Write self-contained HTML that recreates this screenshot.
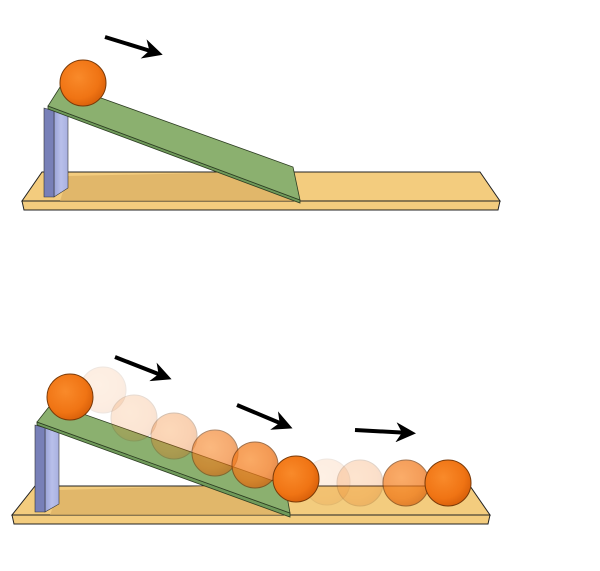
<!DOCTYPE html>
<html><head><meta charset="utf-8"><style>html,body{margin:0;padding:0;background:#fff}svg{display:block}</style></head><body>
<svg width="600" height="571" viewBox="0 0 600 571" xmlns="http://www.w3.org/2000/svg">
<defs>
<radialGradient id="b" cx="0.4" cy="0.38" r="0.65"><stop offset="0" stop-color="#f98a2a"/><stop offset="0.7" stop-color="#f07414"/><stop offset="1" stop-color="#d9600a"/></radialGradient>
<linearGradient id="side" x1="0" x2="1"><stop offset="0" stop-color="#9aa3d8"/><stop offset="0.5" stop-color="#b8bfea"/><stop offset="1" stop-color="#a9b0e0"/></linearGradient>
<marker id="ah" viewBox="0 0 10 10" refX="7" refY="5" markerWidth="5" markerHeight="5" orient="auto"><path d="M0,0 L10,5 L0,10 L3,5 Z" fill="#000"/></marker>
</defs>

<!-- TOP SCENE -->
<polygon points="22,201 500,201 498,210 24,210" fill="#f3cc7e" stroke="#222" stroke-width="1"/>
<polygon points="42,172 480,172 500,201 22,201" fill="#f3cc7e" stroke="#222" stroke-width="1"/>
<polygon points="68,176 250,172 300,201 60,201" fill="#d9ae62" opacity="0.7"/>
<polygon points="54,111 68,116 68,188 54,197" fill="url(#side)" stroke="#333" stroke-width="0.6"/>
<polygon points="44,108 54,111 54,197 44,197" fill="#7880b8" stroke="#333" stroke-width="0.6"/>
<polygon points="48,106 300,200 300,203 48,109" fill="#6f9a5a" stroke="#2d3d22" stroke-width="0.8"/>
<polygon points="62,84 293,167 300,200 48,106" fill="#8bb06f" stroke="#2d3d22" stroke-width="0.8"/>
<circle cx="83" cy="83" r="23" fill="url(#b)" stroke="#7a3a08" stroke-width="1"/>
<line x1="105" y1="37" x2="157" y2="53" stroke="#000" stroke-width="4" marker-end="url(#ah)"/>

<!-- BOTTOM SCENE -->
<polygon points="12,515 490,515 488,524 14,524" fill="#f3cc7e" stroke="#222" stroke-width="1"/>
<polygon points="35,486 470,486 490,515 12,515" fill="#f3cc7e" stroke="#222" stroke-width="1"/>
<polygon points="59,490 205,486 290,515 50,515" fill="#d9ae62" opacity="0.7"/>
<polygon points="45,428 59,433 59,504 45,512" fill="url(#side)" stroke="#333" stroke-width="0.6"/>
<polygon points="35,425 45,428 45,512 35,512" fill="#7880b8" stroke="#333" stroke-width="0.6"/>
<polygon points="37,422 290,513 290,517 37,425" fill="#6f9a5a" stroke="#2d3d22" stroke-width="0.8"/>
<polygon points="52,403 285,485 290,513 37,422" fill="#8bb06f" stroke="#2d3d22" stroke-width="0.8"/>
<g stroke="#7a3a08" stroke-width="1">
<circle cx="103" cy="390" r="23" fill="url(#b)" opacity="0.12"/>
<circle cx="134" cy="418" r="23" fill="url(#b)" opacity="0.18"/>
<circle cx="174" cy="436" r="23" fill="url(#b)" opacity="0.32"/>
<circle cx="215" cy="453" r="23" fill="url(#b)" opacity="0.6"/>
<circle cx="255" cy="465" r="23" fill="url(#b)" opacity="0.72"/>
<circle cx="327" cy="482" r="23" fill="url(#b)" opacity="0.12"/>
<circle cx="360" cy="483" r="23" fill="url(#b)" opacity="0.22"/>
<circle cx="406" cy="483" r="23" fill="url(#b)" opacity="0.7"/>
<circle cx="70" cy="397" r="23" fill="url(#b)"/>
<circle cx="296" cy="479" r="23" fill="url(#b)"/>
<circle cx="448" cy="483" r="23" fill="url(#b)"/>
</g>
<line x1="115" y1="357" x2="166" y2="377" stroke="#000" stroke-width="4" marker-end="url(#ah)"/>
<line x1="237" y1="405" x2="287" y2="426" stroke="#000" stroke-width="4" marker-end="url(#ah)"/>
<line x1="355" y1="430" x2="410" y2="433" stroke="#000" stroke-width="4" marker-end="url(#ah)"/>
</svg>
</body></html>
